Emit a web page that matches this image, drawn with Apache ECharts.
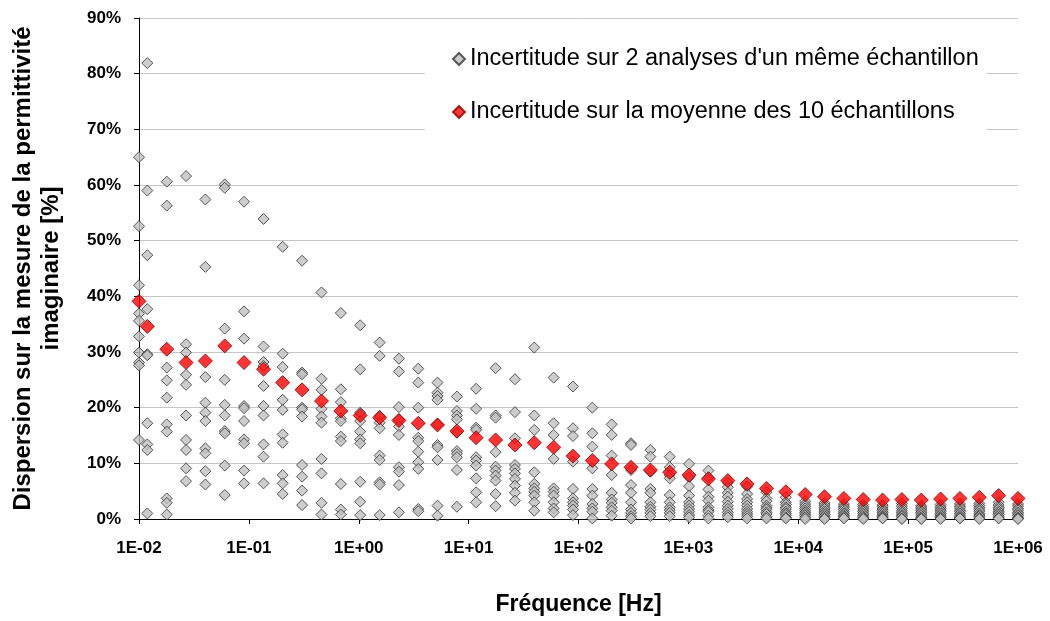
<!DOCTYPE html>
<html>
<head>
<meta charset="utf-8">
<script src="https://cdn.jsdelivr.net/npm/echarts@6/dist/echarts.min.js"></script>
<style>
  html, body { margin: 0; padding: 0; background: #fff; }
  #chart { width: 1050px; height: 621px; }
</style>
</head>
<body>
<div id="chart"></div>
<script>
// Measurement frequencies [Hz]
const frequencies = [0.01, 0.0119, 0.0179, 0.0268, 0.0402, 0.0603, 0.0904, 0.136, 0.203, 0.305,
  0.458, 0.687, 1.03, 1.55, 2.32, 3.48, 5.21, 7.82, 11.7, 17.6,
  26.4, 39.6, 59.4, 89.1, 133.7, 200.5, 300.7, 451.1, 676.6, 1015,
  1522, 2284, 3425, 5138, 7707, 11561, 17342, 26012, 39018, 58528,
  87791, 131687, 197531, 296296, 444444, 666667, 1000000];

// Uncertainty on the mean of the 10 samples [%]
const meanDispersion = [39.1, 34.6, 30.5, 28.1, 28.4, 31.1, 28.1, 26.9, 24.5, 23.2,
  21.2, 19.4, 18.6, 18.2, 17.7, 17.2, 16.9, 15.8, 14.6, 14.2,
  13.3, 13.7, 12.9, 11.3, 10.5, 9.9, 9.3, 8.8, 8.4, 7.9,
  7.2, 6.9, 6.3, 5.5, 4.9, 4.4, 4.0, 3.7, 3.5, 3.4,
  3.5, 3.4, 3.6, 3.7, 3.9, 4.2, 3.7];

// Uncertainty between two analyses of the same sample [%], one row per frequency
const sampleDispersion = [
  [65.0, 52.6, 42.0, 36.9, 35.6, 32.8, 29.9, 28.1, 27.6, 14.2],
  [81.9, 59.0, 47.4, 37.7, 29.6, 29.4, 17.2, 13.4, 12.4, 1.0],
  [60.6, 56.3, 27.2, 24.9, 21.8, 17.0, 15.7, 3.7, 2.9, 0.8],
  [61.6, 31.4, 29.9, 25.9, 24.1, 18.6, 14.2, 12.4, 9.1, 6.8],
  [57.4, 45.3, 25.5, 20.9, 19.1, 17.6, 12.7, 11.8, 8.6, 6.2],
  [60.1, 59.5, 34.2, 25.0, 20.5, 18.6, 15.8, 15.4, 9.6, 4.3],
  [57.0, 37.3, 32.4, 20.3, 19.9, 17.6, 14.3, 13.6, 8.7, 6.4],
  [53.9, 31.0, 28.2, 27.5, 23.9, 20.3, 18.6, 13.4, 11.2, 6.4],
  [48.9, 29.7, 27.3, 21.4, 19.6, 15.2, 13.7, 7.9, 6.4, 4.5],
  [46.4, 26.3, 26.0, 20.0, 19.7, 18.4, 9.7, 7.6, 5.1, 2.5],
  [40.7, 25.2, 23.2, 19.8, 18.4, 17.3, 10.8, 8.2, 2.9, 0.8],
  [37.0, 23.3, 21.0, 18.1, 17.6, 14.8, 14.0, 6.3, 1.7, 0.8],
  [34.8, 26.9, 19.1, 17.6, 15.7, 14.3, 13.6, 6.7, 3.1, 0.7],
  [31.7, 29.3, 18.5, 17.3, 16.3, 11.4, 10.6, 6.6, 6.2, 0.7],
  [28.8, 26.5, 20.1, 17.9, 16.6, 15.1, 9.3, 8.5, 6.1, 1.2],
  [27.0, 24.5, 20.0, 14.6, 14.0, 12.1, 10.2, 9.0, 1.8, 1.4],
  [24.5, 22.7, 22.1, 21.4, 17.0, 13.3, 12.9, 10.6, 2.4, 0.6],
  [22.0, 19.4, 18.6, 17.9, 15.5, 12.2, 11.7, 11.1, 8.8, 2.2],
  [23.4, 19.8, 16.4, 16.0, 11.1, 10.5, 9.6, 7.3, 4.8, 3.0],
  [27.1, 18.6, 18.2, 12.0, 9.4, 8.7, 7.8, 6.9, 4.5, 2.3],
  [25.1, 19.2, 14.5, 9.7, 9.0, 8.2, 7.2, 6.0, 4.7, 3.3],
  [30.8, 18.6, 16.0, 8.4, 6.3, 5.5, 4.9, 4.2, 3.0, 1.5],
  [25.4, 17.2, 15.1, 10.8, 5.5, 4.9, 4.2, 3.0, 1.9, 1.2],
  [23.8, 16.3, 14.9, 10.3, 5.4, 3.7, 3.0, 2.4, 1.7, 0.7],
  [20.0, 15.4, 13.0, 9.1, 5.4, 4.2, 2.7, 1.9, 1.3, 0.1],
  [17.0, 15.1, 11.4, 7.9, 4.7, 3.5, 2.9, 2.1, 1.5, 0.6],
  [13.6, 13.3, 8.8, 6.1, 4.7, 3.0, 1.7, 1.1, 0.5, 0.1],
  [12.4, 11.2, 8.5, 5.4, 4.7, 3.0, 2.2, 1.7, 1.1, 0.5],
  [11.2, 9.3, 7.9, 7.3, 4.3, 3.0, 2.1, 1.6, 1.1, 0.5],
  [9.9, 7.5, 5.9, 4.2, 3.0, 2.4, 1.8, 1.3, 0.7, 0.3],
  [8.7, 7.5, 5.3, 4.0, 3.3, 2.1, 1.6, 1.3, 0.6, 0.1],
  [6.5, 5.7, 4.7, 4.0, 3.1, 2.4, 1.8, 1.2, 0.7, 0.3],
  [5.8, 4.5, 3.6, 3.0, 2.4, 1.8, 1.3, 0.9, 0.5, 0.1],
  [4.8, 3.7, 3.2, 2.4, 2.0, 1.7, 1.2, 0.9, 0.4, 0.1],
  [3.9, 3.0, 2.6, 2.1, 1.8, 1.3, 1.0, 0.7, 0.3, 0.1],
  [3.2, 2.7, 2.3, 1.9, 1.5, 1.2, 0.9, 0.6, 0.3, 0.0],
  [2.9, 2.5, 2.1, 1.8, 1.4, 1.1, 0.8, 0.5, 0.2, 0.0],
  [2.7, 2.3, 2.0, 1.7, 1.3, 1.0, 0.7, 0.5, 0.2, 0.1],
  [2.6, 2.2, 1.9, 1.6, 1.3, 1.0, 0.7, 0.4, 0.2, 0.0],
  [2.5, 2.2, 1.8, 1.5, 1.2, 0.9, 0.6, 0.4, 0.2, 0.1],
  [2.8, 2.3, 1.9, 1.5, 1.2, 0.9, 0.6, 0.4, 0.1, 0.0],
  [2.4, 2.1, 1.8, 1.5, 1.2, 0.9, 0.6, 0.3, 0.1, 0.0],
  [2.6, 2.2, 1.9, 1.6, 1.3, 1.0, 0.7, 0.4, 0.2, 0.0],
  [2.7, 2.3, 2.0, 1.6, 1.3, 1.0, 0.7, 0.4, 0.2, 0.1],
  [2.8, 2.4, 2.0, 1.7, 1.4, 1.0, 0.7, 0.5, 0.2, 0.0],
  [3.0, 2.5, 2.1, 1.8, 1.4, 1.1, 0.8, 0.5, 0.2, 0.1],
  [2.7, 2.3, 1.9, 1.6, 1.2, 0.9, 0.6, 0.3, 0.1, 0.0]
];

const seriesNames = [
  "Incertitude sur 2 analyses d'un même échantillon",
  "Incertitude sur la moyenne des 10 échantillons"
];
const xAxisTitle = 'Fréquence [Hz]';
const yAxisTitle = 'Dispersion sur la mesure de la permittivité\nimaginaire [%]';

const samplePoints = [];
frequencies.forEach((f, i) => {
  sampleDispersion[i].forEach(v => samplePoints.push([f, v]));
});
const meanPoints = frequencies.map((f, i) => [f, meanDispersion[i]]);

const FONT = '"Liberation Sans", Arial, sans-serif';

// 0.01 -> "1E-02", 1e6 -> "1E+06"
function sciLabel(v) {
  const e = Math.round(Math.log10(v));
  const a = Math.abs(e);
  return '1E' + (e < 0 ? '-' : '+') + (a < 10 ? '0' : '') + a;
}

const chart = echarts.init(document.getElementById('chart'), null, { renderer: 'canvas' });
chart.setOption({
  animation: false,
  backgroundColor: '#ffffff',
  grid: { left: 139, right: 32, top: 18, bottom: 101, containLabel: false },
  legend: {
    orient: 'vertical',
    left: 425,
    top: 39,
    itemGap: 29,
    itemWidth: 12,
    itemHeight: 12,
    backgroundColor: '#ffffff',
    padding: [8, 8, 10, 27],
    textStyle: { fontFamily: FONT, fontSize: 23.5, color: '#000' },
    data: seriesNames.map(n => ({ name: n, icon: 'diamond' }))
  },
  xAxis: {
    type: 'log',
    logBase: 10,
    min: 0.01,
    max: 1000000,
    name: xAxisTitle,
    nameLocation: 'middle',
    nameGap: 74,
    nameTextStyle: { fontFamily: FONT, fontSize: 23, fontWeight: 'bold', color: '#000' },
    axisLine: { show: true, onZero: false, lineStyle: { color: '#000', width: 1 } },
    axisTick: { show: true, inside: false, length: 5, lineStyle: { color: '#000' } },
    minorTick: { show: false },
    splitLine: { show: false },
    axisLabel: {
      formatter: sciLabel,
      fontFamily: FONT, fontSize: 17, fontWeight: 'bold', color: '#000', margin: 21
    }
  },
  yAxis: {
    type: 'value',
    min: 0,
    max: 90,
    interval: 10,
    name: yAxisTitle,
    nameLocation: 'middle',
    nameRotate: 90,
    nameGap: 74,
    nameTextStyle: { fontFamily: FONT, fontSize: 24, fontWeight: 'bold', color: '#000', lineHeight: 28 },
    axisLine: { show: true, lineStyle: { color: '#000', width: 1 } },
    axisTick: { show: true, inside: false, length: 5, lineStyle: { color: '#000' } },
    splitLine: { show: true, lineStyle: { color: '#c6c6c6', width: 1 } },
    axisLabel: {
      formatter: '{value}%',
      fontFamily: FONT, fontSize: 17, fontWeight: 'bold', color: '#000', margin: 18
    }
  },
  series: [
    {
      name: seriesNames[0],
      type: 'scatter',
      symbol: 'diamond',
      symbolSize: 11,
      clip: false,
      itemStyle: { color: '#c0c0c0', borderColor: '#333333', borderWidth: 1 },
      data: samplePoints,
      z: 2
    },
    {
      name: seriesNames[1],
      type: 'scatter',
      symbol: 'diamond',
      symbolSize: 14,
      clip: false,
      itemStyle: { color: '#ff0000', borderColor: '#8a0000', borderWidth: 1 },
      data: meanPoints,
      z: 3
    }
  ]
});
</script>
</body>
</html>
